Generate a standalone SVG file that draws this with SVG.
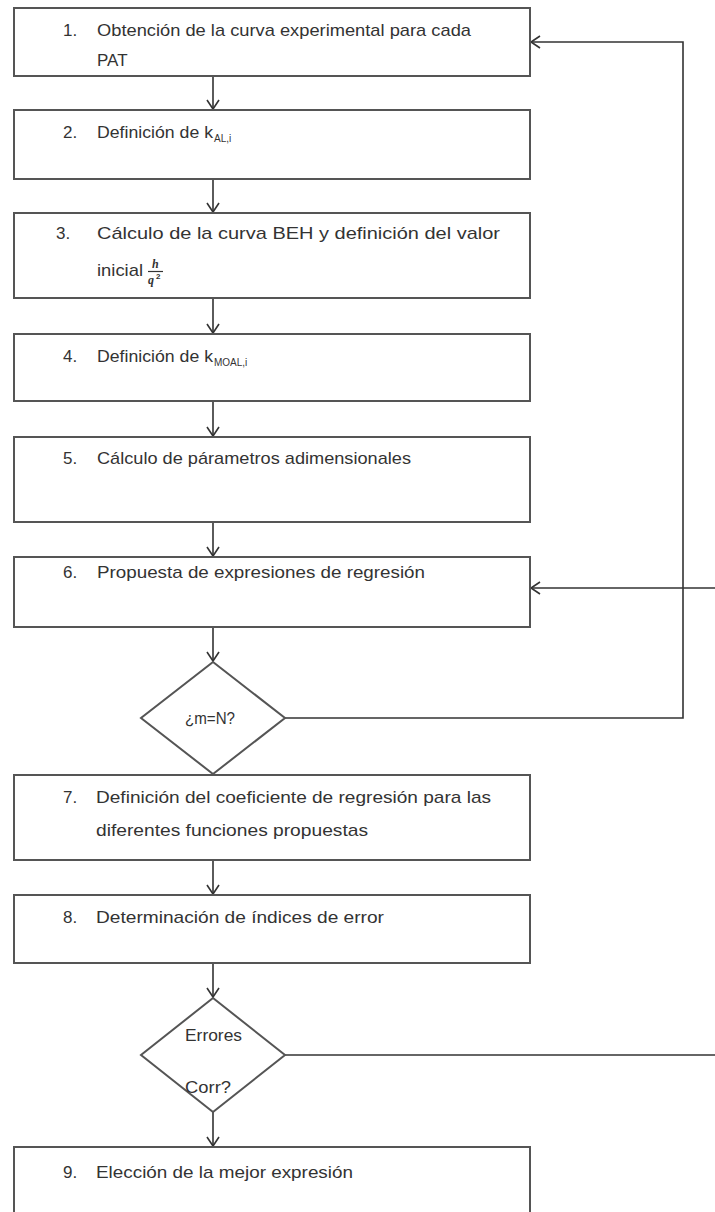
<svg xmlns="http://www.w3.org/2000/svg" width="715" height="1212" viewBox="0 0 715 1212">
<defs>
<marker id="arr" markerUnits="userSpaceOnUse" markerWidth="12" markerHeight="14" refX="10" refY="7" orient="auto">
<path d="M1,1 L10,7 L1,13" fill="none" stroke="#333" stroke-width="1.6"/>
</marker>
<style>
.box{fill:#fff;stroke:#555;stroke-width:2}
.dia{fill:#fff;stroke:#555;stroke-width:2}
.t{font-family:"Liberation Sans",Arial,sans-serif;font-size:17px;fill:#333}
.s{font-family:"Liberation Sans",Arial,sans-serif;font-size:10px;fill:#333}
.m{font-family:"Liberation Serif","Times New Roman",serif;font-style:italic;font-weight:bold;font-size:12px;fill:#333}
.c{fill:none;stroke:#333;stroke-width:1.6}
</style>
</defs>
<rect width="715" height="1212" fill="#fff"/>
<g id="connectors">
<line class="c" x1="213" y1="76" x2="213" y2="109" marker-end="url(#arr)"/>
<line class="c" x1="213" y1="179" x2="213" y2="212" marker-end="url(#arr)"/>
<line class="c" x1="213" y1="298" x2="213" y2="333" marker-end="url(#arr)"/>
<line class="c" x1="213" y1="401" x2="213" y2="436" marker-end="url(#arr)"/>
<line class="c" x1="213" y1="522" x2="213" y2="556" marker-end="url(#arr)"/>
<line class="c" x1="213" y1="627" x2="213" y2="661" marker-end="url(#arr)"/>
<line class="c" x1="213" y1="860" x2="213" y2="894" marker-end="url(#arr)"/>
<line class="c" x1="213" y1="963" x2="213" y2="997" marker-end="url(#arr)"/>
<line class="c" x1="213" y1="1112" x2="213" y2="1146" marker-end="url(#arr)"/>
<polyline class="c" points="285,718 683,718 683,42 531,42" marker-end="url(#arr)"/>
<line class="c" x1="715" y1="588" x2="531" y2="588" marker-end="url(#arr)"/>
<line class="c" x1="285" y1="1055" x2="715" y2="1055"/>
</g>
<g id="n1">
<rect class="box" x="14" y="8" width="516" height="68"/>
<text class="t" x="63" y="36">1.</text>
<text class="t" x="97" y="36" textLength="374" lengthAdjust="spacingAndGlyphs">Obtención de la curva experimental para cada</text>
<text class="t" x="97" y="66">PAT</text>
</g>
<g id="n2">
<rect class="box" x="14" y="110" width="516" height="69"/>
<text class="t" x="63" y="138">2.</text>
<text class="t" x="97" y="138" textLength="116" lengthAdjust="spacingAndGlyphs">Definición de k</text>
<text class="s" x="214" y="142">AL,i</text>
</g>
<g id="n3">
<rect class="box" x="14" y="213" width="516" height="85"/>
<text class="t" x="56" y="239">3.</text>
<text class="t" x="97" y="239" textLength="403" lengthAdjust="spacingAndGlyphs">Cálculo de la curva BEH y definición del valor</text>
<text class="t" x="97" y="276" textLength="46" lengthAdjust="spacingAndGlyphs">inicial</text>
<text class="m" x="152" y="268">h</text>
<line x1="148" y1="271.5" x2="163" y2="271.5" stroke="#333" stroke-width="1.2"/>
<text class="m" x="148" y="284">q</text>
<text class="s" x="156" y="279" style="font-size:8px;font-weight:bold">2</text>
</g>
<g id="n4">
<rect class="box" x="14" y="334" width="516" height="67"/>
<text class="t" x="63" y="362">4.</text>
<text class="t" x="97" y="362" textLength="116" lengthAdjust="spacingAndGlyphs">Definición de k</text>
<text class="s" x="214" y="366">MOAL,i</text>
</g>
<g id="n5">
<rect class="box" x="14" y="437" width="516" height="85"/>
<text class="t" x="63" y="464">5.</text>
<text class="t" x="97" y="464" textLength="314" lengthAdjust="spacingAndGlyphs">Cálculo de párametros adimensionales</text>
</g>
<g id="n6">
<rect class="box" x="14" y="557" width="516" height="70"/>
<text class="t" x="63" y="578">6.</text>
<text class="t" x="97" y="578" textLength="328" lengthAdjust="spacingAndGlyphs">Propuesta de expresiones de regresión</text>
</g>
<g id="d1">
<polygon class="dia" points="213,662 285,718 213,774 141,718"/>
<text class="t" x="185" y="724" textLength="50" lengthAdjust="spacingAndGlyphs">¿m=N?</text>
</g>
<g id="n7">
<rect class="box" x="14" y="775" width="516" height="85"/>
<text class="t" x="63" y="803">7.</text>
<text class="t" x="96" y="803" textLength="395" lengthAdjust="spacingAndGlyphs">Definición del coeficiente de regresión para las</text>
<text class="t" x="96" y="836" textLength="272" lengthAdjust="spacingAndGlyphs">diferentes funciones propuestas</text>
</g>
<g id="n8">
<rect class="box" x="14" y="895" width="516" height="68"/>
<text class="t" x="63" y="923">8.</text>
<text class="t" x="96" y="923" textLength="288" lengthAdjust="spacingAndGlyphs">Determinación de índices de error</text>
</g>
<g id="d2">
<polygon class="dia" points="213,998 285,1055 213,1112 141,1055"/>
<text class="t" x="185" y="1041" textLength="57" lengthAdjust="spacingAndGlyphs">Errores</text>
<text class="t" x="185" y="1093" textLength="46" lengthAdjust="spacingAndGlyphs">Corr?</text>
</g>
<g id="n9">
<rect class="box" x="14" y="1147" width="516" height="90"/>
<text class="t" x="63" y="1178">9.</text>
<text class="t" x="96" y="1178" textLength="257" lengthAdjust="spacingAndGlyphs">Elección de la mejor expresión</text>
</g>
</svg>
